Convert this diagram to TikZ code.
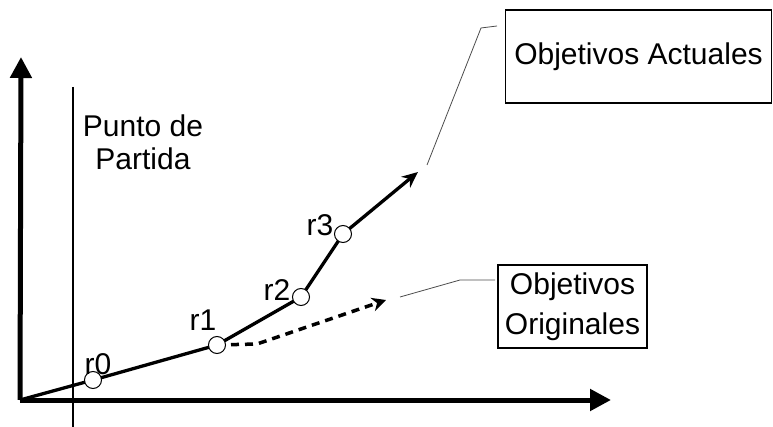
\documentclass[tikz,border=0pt]{standalone}
\usepackage{fontspec}
\setmainfont{Liberation Sans}
\usetikzlibrary{arrows.meta}
\begin{document}
\begin{tikzpicture}[x=1pt,y=-1pt,
  font=\fontsize{30}{34}\selectfont,
  axisline/.style={line width=5pt, -{Triangle[length=21pt,width=21pt]}},
  route/.style={line width=3.3pt, line join=round},
  plan/.style={line width=3.5pt, dash pattern=on 8pt off 6pt, -{Stealth[length=14pt,width=14pt]}},
  milestone/.style={circle, draw, fill=white, line width=1pt, minimum size=17pt, inner sep=0pt},
  tag/.style={inner sep=0pt},
  goalbox/.style={draw, line width=1.5pt, inner sep=0pt, align=center},
  callout/.style={draw=black!70, line width=0.8pt}]
\useasboundingbox (0,0) rectangle (773,427);

% axes
\coordinate (O) at (20,400);
\coordinate (ytip) at (21,57);
\coordinate (xtip) at (611,400);
\draw[axisline] (O) -- (ytip);
\draw[axisline] (O) -- (xtip);

% starting point marker
\coordinate (s0) at (73,87);
\coordinate (s1) at (73,427);
\draw[line width=2pt] (s0) -- (s1);
\node[tag, align=center, font=\fontsize{30}{33}\selectfont] (start) at (143,142) {Punto de\\Partida};

% milestones of the actual route
\coordinate (p0) at (93,380);
\coordinate (p1) at (217,345);
\coordinate (p2) at (301,297);
\coordinate (p3) at (343,234);
\coordinate (ptip) at (418,172);
\draw[route] (O) -- (p0) -- (p1) -- (p2) -- (p3);
\draw[route, -{Stealth[length=16pt,width=14pt]}] (p3) -- (ptip);

% originally planned route
\coordinate (dbend) at (257,344);
\coordinate (dtip) at (386,300);
\draw[plan] (p1) -- (dbend) -- (dtip);

\node[milestone] (r0) at (p0) {};
\node[milestone] (r1) at (p1) {};
\node[milestone] (r2) at (p2) {};
\node[milestone] (r3) at (p3) {};

\node[tag] (l0) at (98,364) {r0};
\node[tag] (l1) at (203,320) {r1};
\node[tag] (l2) at (277,290) {r2};
\node[tag] (l3) at (320,225) {r3};

% goal boxes
\node[goalbox, minimum width=266pt, minimum height=93pt] (act) at (638.5,56.5) {Objetivos Actuales};
\node[goalbox, minimum width=149pt, minimum height=83pt, font=\fontsize{30}{40}\selectfont] (orig) at (572.5,306.5) {Objetivos\\Originales};

% callout leaders
\coordinate (a0) at (427,165);
\coordinate (a1) at (481,28);
\coordinate (a2) at (497,26);
\draw[callout] (a0) -- (a1) -- (a2);
\coordinate (b0) at (400,297);
\coordinate (b1) at (460,280);
\coordinate (b2) at (495,280);
\draw[callout] (b0) -- (b1) -- (b2);
\end{tikzpicture}
\end{document}
